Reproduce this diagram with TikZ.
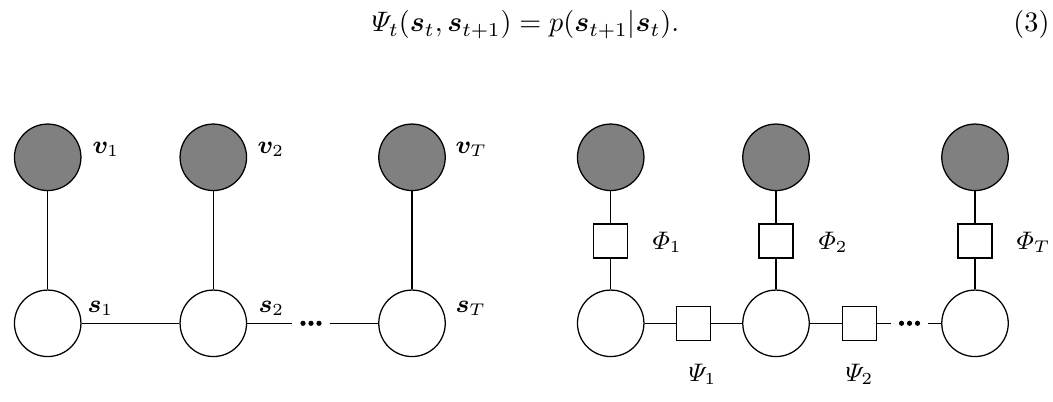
\documentclass[tikz,border=0pt]{standalone}
\usepackage{amsmath}
\usepackage{bm}
\begin{document}
\begin{tikzpicture}[x=0.355pt,y=-0.355pt,
  obs/.style={circle,draw,fill=black!50,minimum size=23.6pt,inner sep=0pt,line width=0.45pt},
  hid/.style={circle,draw,fill=white,minimum size=23.6pt,inner sep=0pt,line width=0.45pt},
  fac/.style={rectangle,draw,fill=white,minimum size=12pt,inner sep=0pt,line width=0.45pt},
  gap/.style={inner sep=0pt,minimum width=36*0.355pt,minimum height=2pt},
  lbl/.style={anchor=west,inner sep=0pt,font=\small},
  edge/.style={line width=0.45pt}]
\useasboundingbox (0,0) rectangle (1053,401);
% equation
\node[anchor=base,inner sep=0pt] (eq) at (525.5,32) {$\varPsi_t(\bm{s}_t,\bm{s}_{t+1})=p(\bm{s}_{t+1}|\bm{s}_t).$};
\node[anchor=base east,inner sep=0pt] (num) at (1050,32) {(3)};
% left graph
\node[obs] (v1) at (47.7,157.3) {};
\node[obs] (v2) at (213.3,157.3) {};
\node[obs] (vT) at (412,157.3) {};
\node[hid] (s1) at (47.7,323.3) {};
\node[hid] (s2) at (213.3,323.3) {};
\node[hid] (sT) at (412,323.3) {};
\node[gap] (dA) at (311,323.3) {};
\draw[edge] (v1) -- (s1);
\draw[edge] (v2) -- (s2);
\draw[edge] (vT) -- (sT);
\draw[edge] (s1) -- (s2);
\draw[edge] (s2) -- (dA.west);
\draw[edge] (dA.east) -- (sT);
\foreach \dx in {-8,0,8} \fill ([xshift=\dx*0.355pt]dA.center) circle (2.6*0.355pt);
\node[lbl] (lv1) at (92,149) {$\bm{v}_1$};
\node[lbl] (lv2) at (257,149) {$\bm{v}_2$};
\node[lbl] (lvT) at (455,149) {$\bm{v}_T$};
\node[lbl] (ls1) at (87,308) {$\bm{s}_1$};
\node[lbl] (ls2) at (258,308) {$\bm{s}_2$};
\node[lbl] (lsT) at (455,308) {$\bm{s}_T$};
% right graph
\node[obs] (a1) at (610.7,157.3) {};
\node[obs] (a2) at (776,157.3) {};
\node[obs] (aT) at (975,157.3) {};
\node[hid] (b1) at (610.7,323.3) {};
\node[hid] (b2) at (776,323.3) {};
\node[hid] (bT) at (975,323.3) {};
\node[fac] (f1) at (610.7,241) {};
\node[fac] (f2) at (776,241) {};
\node[fac] (fT) at (975,241) {};
\node[fac] (g1) at (693.3,323.3) {};
\node[fac] (g2) at (859.3,323.3) {};
\node[gap] (dB) at (909.5,323.3) {};
\draw[edge] (a1) -- (f1) -- (b1);
\draw[edge] (a2) -- (f2) -- (b2);
\draw[edge] (aT) -- (fT) -- (bT);
\draw[edge] (b1) -- (g1) -- (b2);
\draw[edge] (b2) -- (g2) -- (dB.west);
\draw[edge] (dB.east) -- (bT);
\foreach \dx in {-8,0,8} \fill ([xshift=\dx*0.355pt]dB.center) circle (2.6*0.355pt);
\node[lbl] (lf1) at (652,242) {$\varPhi_1$};
\node[lbl] (lf2) at (818,242) {$\varPhi_2$};
\node[lbl] (lfT) at (1016,242) {$\varPhi_T$};
\node[lbl] (lg1) at (688,374) {$\varPsi_1$};
\node[lbl] (lg2) at (845,374) {$\varPsi_2$};
\end{tikzpicture}
\end{document}
